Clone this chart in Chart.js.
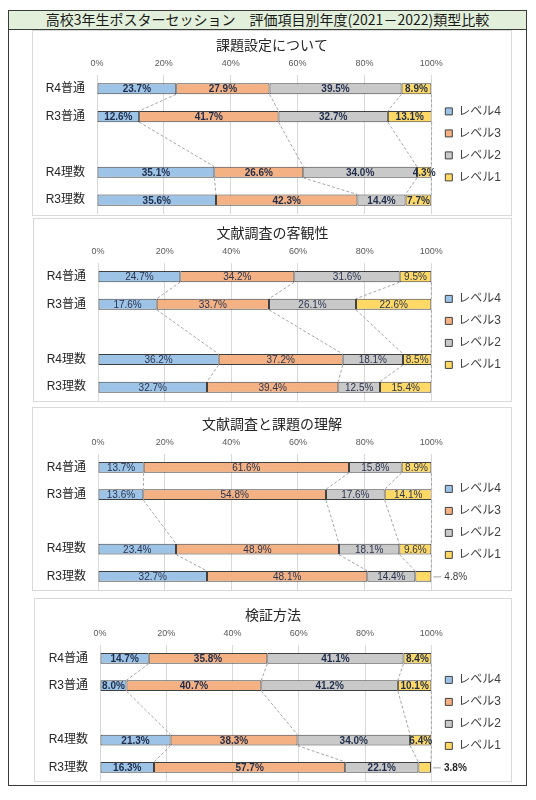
<!DOCTYPE html>
<html lang="ja">
<head>
<meta charset="utf-8">
<title>評価項目別年度類型比較</title>
<script src="https://cdn.jsdelivr.net/npm/chart.js@4.4.1/dist/chart.umd.min.js"></script>
<style>
body{margin:0;background:#fff;width:536px;height:800px;position:relative;overflow:hidden;font-family:'Noto Sans CJK JP',sans-serif}
#frame{position:absolute;left:8px;top:10px;width:519px;height:776px;border:1.5px solid #3b3b3b;box-sizing:border-box}
#head{position:absolute;left:8px;top:10px;width:519px;height:20px;box-sizing:border-box;border:1.5px solid #3b3b3b;background:#e2efda;text-align:center;font-size:14px;line-height:17px;color:#1a1a1a;white-space:nowrap}
.panel{position:absolute;border:1px solid #d9d9d9;box-sizing:border-box;background:#fff}
.panel div{position:relative;width:100%;height:100%}
</style>
</head>
<body>
<div id="frame"></div>
<div id="head">高校3年生ポスターセッション　評価項目別年度(2021－2022)類型比較</div>
<div class="panel" style="left:32px;top:30px;width:480px;height:186px"><div><canvas id="c1"></canvas></div></div>
<div class="panel" style="left:33px;top:218px;width:479px;height:184px"><div><canvas id="c2"></canvas></div></div>
<div class="panel" style="left:32px;top:407px;width:480px;height:184px"><div><canvas id="c3"></canvas></div></div>
<div class="panel" style="left:34px;top:598px;width:478px;height:184px"><div><canvas id="c4"></canvas></div></div>
<script>
const FONT = "'Liberation Sans', 'Noto Sans CJK JP', sans-serif";
const LABEL_FONT = "'Liberation Sans Narrow', 'Liberation Sans', sans-serif";

const categories = ['R4普通', 'R3普通', '', 'R4理数', 'R3理数'];
const levels = ['レベル4', 'レベル3', 'レベル2', 'レベル1'];
const levelColors = ['#9dc3e6', '#f4b183', '#c9c9c9', '#ffd966'];

// 課題設定について
const kadaiL4 = [23.7, 12.6, null, 35.1, 35.6];
const kadaiL3 = [27.9, 41.7, null, 26.6, 42.3];
const kadaiL2 = [39.5, 32.7, null, 34.0, 14.4];
const kadaiL1 = [8.9, 13.1, null, 4.3, 7.7];

// 文献調査の客観性
const bunkenL4 = [24.7, 17.6, null, 36.2, 32.7];
const bunkenL3 = [34.2, 33.7, null, 37.2, 39.4];
const bunkenL2 = [31.6, 26.1, null, 18.1, 12.5];
const bunkenL1 = [9.5, 22.6, null, 8.5, 15.4];

// 文献調査と課題の理解
const rikaiL4 = [13.7, 13.6, null, 23.4, 32.7];
const rikaiL3 = [61.6, 54.8, null, 48.9, 48.1];
const rikaiL2 = [15.8, 17.6, null, 18.1, 14.4];
const rikaiL1 = [8.9, 14.1, null, 9.6, 4.8];

// 検証方法
const kenshoL4 = [14.7, 8.0, null, 21.3, 16.3];
const kenshoL3 = [35.8, 40.7, null, 38.3, 57.7];
const kenshoL2 = [41.1, 41.2, null, 34.0, 22.1];
const kenshoL1 = [8.4, 10.1, null, 6.4, 3.8];

// dashed series lines between neighbouring bars (Excel style)
const seriesLines = {
  id: 'seriesLines',
  beforeDatasetsDraw(chart) {
    const ctx = chart.ctx;
    ctx.save();
    ctx.strokeStyle = '#a6a6a6';
    ctx.lineWidth = 1;
    ctx.setLineDash([3, 2]);
    chart.data.datasets.forEach((ds, d) => {
      let prev = null;
      chart.getDatasetMeta(d).data.forEach((bar, i) => {
        if (ds.data[i] == null) return;
        if (prev) {
          ctx.beginPath();
          ctx.moveTo(prev.x, prev.y + prev.height / 2);
          ctx.lineTo(bar.x, bar.y - bar.height / 2);
          ctx.stroke();
        }
        prev = bar;
      });
    });
    ctx.restore();
  }
};

// value labels inside the segments, or outside with a short leader
const barLabels = {
  id: 'barLabels',
  afterDatasetsDraw(chart, args, opts) {
    const ctx = chart.ctx;
    ctx.save();
    ctx.font = (opts.bold ? 'bold ' : '') + '10px ' + LABEL_FONT;
    ctx.textBaseline = 'middle';
    chart.data.datasets.forEach((ds, d) => {
      chart.getDatasetMeta(d).data.forEach((bar, i) => {
        const v = ds.data[i];
        if (v == null) return;
        const txt = v.toFixed(1) + '%';
        const out = (opts.outside || []).some(o => o[0] === d && o[1] === i);
        if (out) {
          ctx.strokeStyle = '#a6a6a6';
          ctx.lineWidth = 1;
          ctx.beginPath();
          ctx.moveTo(bar.x + 2, bar.y + 0.5);
          ctx.lineTo(bar.x + 10, bar.y + 0.5);
          ctx.stroke();
          ctx.fillStyle = opts.outColor || opts.color;
          ctx.textAlign = 'left';
          ctx.fillText(txt, bar.x + 13, bar.y + 1);
        } else {
          ctx.fillStyle = opts.color;
          ctx.textAlign = 'center';
          ctx.fillText(txt, (bar.x + bar.base) / 2, bar.y + 1);
        }
      });
    });
    ctx.restore();
  }
};

function noPad(s) {
  s.paddingTop = 0;
  s.paddingBottom = 0;
}

function makeChart(id, title, series, opt) {
  return new Chart(document.getElementById(id), {
    type: 'bar',
    data: {
      labels: categories,
      datasets: series.map((vals, k) => ({
        label: levels[k],
        data: vals,
        backgroundColor: levelColors[k],
        borderColor: '#404040',
        borderWidth: 1,
        borderSkipped: false,
        barPercentage: 0.4,
        categoryPercentage: 1
      }))
    },
    options: {
      indexAxis: 'y',
      animation: false,
      responsive: true,
      maintainAspectRatio: false,
      layout: { autoPadding: false, padding: { top: opt.top, right: 0, bottom: opt.bottom, left: 0 } },
      scales: {
        x: {
          position: 'top', stacked: true, min: 0, max: 100,
          ticks: { stepSize: 20, padding: 6, color: '#595959', font: { size: 9, family: FONT }, callback: v => v + '%' },
          grid: { color: '#d9d9d9', drawTicks: false },
          border: { display: false },
          afterFit: s => { s.height = 18; }
        },
        y: {
          stacked: true,
          grid: { display: false, drawTicks: false },
          border: { display: false },
          ticks: { padding: 12, color: '#262626', font: { size: 12, family: FONT } },
          afterFit: s => { s.width = opt.left; noPad(s); }
        },
        // empty strip that keeps the legend a little away from the bars
        gap: {
          type: 'category', position: 'right', display: true,
          grid: { display: false, drawTicks: false }, border: { display: false }, ticks: { display: false },
          afterFit: s => { s.width = 4; noPad(s); }
        }
      },
      plugins: {
        title: {
          display: true, text: title, color: '#262626',
          font: { size: 14, family: FONT, weight: 'normal' },
          padding: { top: 7, bottom: 2 }
        },
        legend: {
          position: 'right', fullSize: false,
          labels: { boxWidth: 7, boxHeight: 7, padding: 10, color: '#404040', font: { size: 12, family: FONT } }
        },
        tooltip: { enabled: false },
        barLabels: opt.labels
      }
    },
    plugins: [seriesLines, barLabels]
  });
}

makeChart('c1', '課題設定について', [kadaiL4, kadaiL3, kadaiL2, kadaiL1],
  { top: 0, bottom: 1, left: 64, labels: { bold: true, color: '#1f2d4a' } });
makeChart('c2', '文献調査の客観性', [bunkenL4, bunkenL3, bunkenL2, bunkenL1],
  { top: 0, bottom: 0, left: 64, labels: { bold: false, color: '#2b3550' } });
makeChart('c3', '文献調査と課題の理解', [rikaiL4, rikaiL3, rikaiL2, rikaiL1],
  { top: 2, bottom: 0, left: 65, labels: { bold: false, color: '#2b3550', outColor: '#404040', outside: [[3, 4]] } });
makeChart('c4', '検証方法', [kenshoL4, kenshoL3, kenshoL2, kenshoL1],
  { top: 2, bottom: 0, left: 65, labels: { bold: true, color: '#1f2d4a', outColor: '#262626', outside: [[3, 4]] } });
</script>
</body>
</html>
